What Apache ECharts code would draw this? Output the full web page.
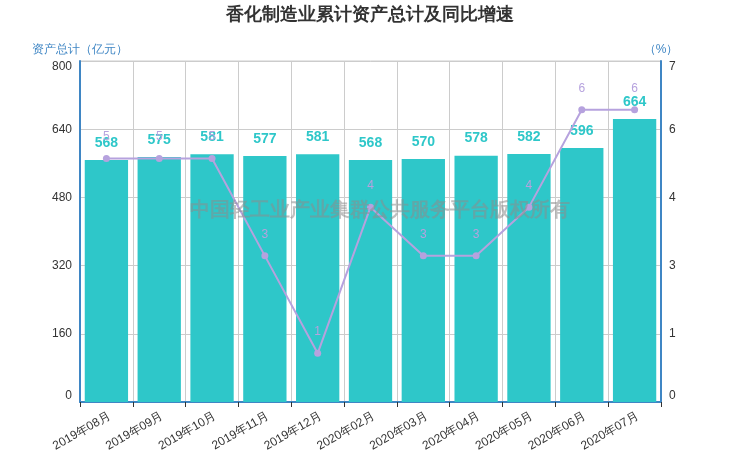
<!DOCTYPE html>
<html>
<head>
<meta charset="utf-8">
<script src="https://cdn.jsdelivr.net/npm/echarts@6/dist/echarts.min.js"></script>
<style>
  html, body { margin: 0; padding: 0; background: #fff; }
  #main { width: 740px; height: 462px; }
</style>
</head>
<body>
<div id="main"></div>
<script>
var months = ['2019年08月', '2019年09月', '2019年10月', '2019年11月', '2019年12月',
    '2020年02月', '2020年03月', '2020年04月', '2020年05月', '2020年06月', '2020年07月'];
var assets = [568, 575, 581, 577, 581, 568, 570, 578, 582, 596, 664];
var growth = [5.0, 5.0, 5.0, 3.0, 1.0, 4.0, 3.0, 3.0, 4.0, 6.0, 6.0];

var axisBlue = '#3f86c4';

var chart = echarts.init(document.getElementById('main'));
var op = {
    title: {
        text: '香化制造业累计资产总计及同比增速',
        left: 'center',
        top: 1,
        textStyle: { fontSize: 18, fontWeight: 'bold', color: '#333' }
    },
    grid: {
        show: true,
        left: 80,
        right: 79,
        top: 61,
        bottom: 60,
        borderColor: '#ccc'
    },
    graphic: [{
        type: 'text',
        left: 190,
        top: 200,
        z: 100,
        style: {
            text: '中国轻工业产业集群公共服务平台版权所有',
            font: 'bold 20px sans-serif',
            fill: 'rgba(140,140,140,0.55)'
        }
    }],
    xAxis: {
        type: 'category',
        data: months,
        axisLine: { lineStyle: { color: axisBlue, width: 2 } },
        axisTick: { show: true, length: 5, lineStyle: { color: '#333' } },
        axisLabel: { rotate: 30, color: '#333', fontSize: 12, margin: 8, verticalAlign: 'top' },
        splitLine: { show: true, lineStyle: { color: '#ccc' } }
    },
    yAxis: [{
        type: 'value',
        name: '资产总计（亿元）',
        nameGap: 5,
        nameTextStyle: { color: axisBlue, fontSize: 12 },
        min: 0,
        max: 800,
        interval: 160,
        axisLine: { show: true, lineStyle: { color: axisBlue, width: 2 } },
        axisTick: { show: false },
        axisLabel: { color: '#333', verticalAlignMinLabel: 'bottom', verticalAlignMaxLabel: 'top' },
        splitLine: { show: true, lineStyle: { color: '#ccc' } }
    }, {
        type: 'value',
        name: '（%）',
        nameGap: 5,
        nameTextStyle: { color: axisBlue, fontSize: 12 },
        min: 0,
        max: 7,
        interval: 1.4,
        axisLine: { show: true, lineStyle: { color: axisBlue, width: 2 } },
        axisTick: { show: false },
        axisLabel: {
            color: '#333',
            verticalAlignMinLabel: 'bottom',
            verticalAlignMaxLabel: 'top',
            formatter: function (v) { return v.toFixed(0); }
        },
        splitLine: { show: false }
    }],
    series: [{
        name: '资产总计',
        type: 'bar',
        data: assets,
        barCategoryGap: '18%',
        itemStyle: { color: '#2ec7c9' },
        z: 2,
        label: {
            show: true,
            position: 'top',
            distance: 10,
            color: '#2ec7c9',
            fontSize: 14,
            fontWeight: 'bold'
        }
    }, {
        name: '同比增速',
        type: 'line',
        yAxisIndex: 1,
        data: growth,
        symbol: 'circle',
        symbolSize: 7,
        z: 3,
        itemStyle: { color: '#b6a2de' },
        lineStyle: { color: '#b6a2de', width: 2 },
        label: {
            show: true,
            position: 'top',
            distance: 12,
            color: '#b6a2de',
            fontSize: 12,
            formatter: function (p) { return p.value.toFixed(0); }
        }
    }]
};
chart.setOption(op);
</script>
</body>
</html>
